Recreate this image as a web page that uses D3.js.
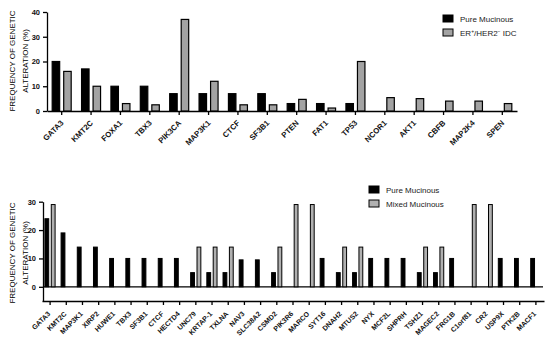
<!DOCTYPE html>
<html>
<head>
<meta charset="utf-8">
<script src="https://cdn.jsdelivr.net/npm/d3@7"></script>
<style>
  body { margin: 0; background: #fff; }
  svg { font-family: "Liberation Sans", Arial, sans-serif; }
</style>
</head>
<body>
<div class="chart"></div>
<script>
// top panel: pure mucinous vs ER+/HER2- IDC
const topGenes = ["GATA3", "KMT2C", "FOXA1", "TBX3", "PIK3CA", "MAP3K1", "CTCF", "SF3B1",
  "PTEN", "FAT1", "TP53", "NCOR1", "AKT1", "CBFB", "MAP2K4", "SPEN"];
const topPure = [20, 17, 10, 10, 7, 7, 7, 7, 3, 3, 3, 0, 0, 0, 0, 0];
const topIdc = [16, 10, 3, 2.5, 37, 12, 2.5, 2.5, 4.7, 1.2, 20, 5.4, 5, 4, 4, 3];
const topTicks = [0, 10, 20, 30, 40];

// bottom panel: pure vs mixed mucinous
const botGenes = ["GATA3", "KMT2C", "MAP3K1", "XIRP2", "HUWE1", "TBX3", "SF3B1", "CTCF",
  "HECTD4", "UNC79", "KRTAP-1", "TXLNA", "NAV3", "SLC38A2", "CSMD2", "PIK3R6", "MARCO",
  "SYT16", "DNAH2", "MTUS2", "NYX", "MCF2L", "SHPRH", "TSHZ1", "MAGEC2", "FRG1B",
  "C1orf81", "CR2", "USP9X", "PTK2B", "MACF1"];
const botPure = [24, 19, 14, 14, 10, 10, 10, 10, 10, 5, 5, 5, 9.5, 9.5, 5, 0, 0,
  10, 5, 5, 10, 10, 10, 5, 5, 10, 0, 0, 10, 10, 10];
const botMixed = [29, 0, 0, 0, 0, 0, 0, 0, 0, 14, 14, 14, 0, 0, 14, 29, 29,
  0, 14, 14, 0, 0, 0, 14, 14, 0, 29, 29, 0, 0, 0];
const botTicks = [0, 10, 20, 30];

const width = 550, height = 337;
const svg = d3.select(".chart").append("svg")
  .attr("width", width)
  .attr("height", height);

function yTitle(cy) {
  const t = svg.append("text")
    .attr("transform", `translate(15, ${cy}) rotate(-90)`)
    .attr("text-anchor", "middle")
    .attr("font-size", 8)
    .attr("fill", "#000");
  t.append("tspan").attr("x", 0).attr("dy", 0).text("FREQUENCY OF GENETIC");
  t.append("tspan").attr("x", 0).attr("dy", "1.6em").text("ALTERATION (%)");
}

function legend(x, y, labels, fills) {
  labels.forEach((lab, i) => {
    const g = svg.append("g").attr("transform", `translate(${x}, ${y + i * 14})`);
    g.append("rect")
      .attr("x", 0).attr("y", -4)
      .attr("width", 10).attr("height", 7)
      .attr("fill", fills[i])
      .attr("stroke", "#000")
      .attr("stroke-width", 1);
    const t = g.append("text")
      .attr("x", 17).attr("y", 3)
      .attr("font-size", 8)
      .attr("fill", "#222");
    lab(t);
  });
}

function styleAxis(g) {
  g.selectAll("path, line").attr("stroke", "#000").attr("stroke-width", 1.3);
  g.selectAll("text").attr("font-weight", "bold").attr("fill", "#111");
}

// ---------- top ----------
const xTop = d3.scaleBand().domain(topGenes).range([47, 517]);
const yTop = d3.scaleLinear().domain([0, 40]).range([111, 12]);
const subTop = d3.scaleBand().domain([0, 1]).range([-9.5, 9.5]).paddingInner(0.35);

svg.append("g")
  .attr("transform", `translate(0, ${yTop(0)})`)
  .call(d3.axisBottom(xTop).tickSize(4).tickSizeOuter(0))
  .call(styleAxis)
  .call(g => g.selectAll("text")
    .attr("font-size", 7.8)
    .attr("text-anchor", "end")
    .attr("transform", "translate(-2,8) rotate(-45)")
    .attr("dy", "0.3em")
    .attr("y", 4));

svg.append("g")
  .attr("transform", `translate(${xTop.range()[0]}, 0)`)
  .call(d3.axisLeft(yTop).tickValues(topTicks).tickSize(4).tickSizeOuter(0))
  .call(styleAxis)
  .call(g => g.selectAll("text").attr("font-size", 7.5));

const topBars = svg.append("g");
[topPure, topIdc].forEach((vals, s) => {
  topBars.selectAll(null)
    .data(vals.map((v, i) => ({ gene: topGenes[i], v })).filter(d => d.v > 0))
    .enter().append("rect")
    .attr("x", d => xTop(d.gene) + xTop.bandwidth() / 2 + subTop(s))
    .attr("width", subTop.bandwidth())
    .attr("y", d => yTop(d.v))
    .attr("height", d => yTop(0) - yTop(d.v))
    .attr("fill", s === 0 ? "#000" : "#a3a3a3")
    .attr("stroke", "#000")
    .attr("stroke-width", 1.2);
});

yTitle(61);
legend(443, 19, [
  t => t.text("Pure Mucinous"),
  t => {
    t.append("tspan").text("ER");
    t.append("tspan").attr("font-size", 5).attr("dy", -3).text("+");
    t.append("tspan").attr("dy", 3).text("/HER2");
    t.append("tspan").attr("font-size", 5).attr("dy", -3).text("−");
    t.append("tspan").attr("dy", 3).text(" IDC");
  }
], ["#000", "#a3a3a3"]);

// ---------- bottom ----------
const xBot = d3.scaleBand().domain(botGenes).range([42, 544]);
const yBot = d3.scaleLinear().domain([-5, 30]).range([301, 201.7]);
const subBot = d3.scaleBand().domain([0, 1]).range([-5.2, 5]).paddingInner(0.4);

svg.append("g")
  .attr("transform", `translate(0, ${yBot(-5)})`)
  .call(d3.axisBottom(xBot).tickSize(4).tickSizeOuter(0))
  .call(styleAxis)
  .call(g => g.selectAll("text")
    .attr("font-size", 7)
    .attr("text-anchor", "end")
    .attr("transform", "translate(-3.6,9) rotate(-45)")
    .attr("dy", "0.3em")
    .attr("y", 4));

svg.append("g")
  .attr("transform", `translate(43, 0)`)
  .call(d3.axisLeft(yBot).tickValues(botTicks).tickSize(4).tickSizeOuter(0))
  .call(styleAxis)
  .call(g => g.selectAll("text").attr("font-size", 7.5));

// zero baseline
svg.append("line")
  .attr("x1", 43).attr("x2", xBot.range()[1] - 1)
  .attr("y1", yBot(0)).attr("y2", yBot(0))
  .attr("stroke", "#000")
  .attr("stroke-width", 1.2);

const botBars = svg.append("g");
[botPure, botMixed].forEach((vals, s) => {
  botBars.selectAll(null)
    .data(vals.map((v, i) => ({ gene: botGenes[i], v })).filter(d => d.v > 0))
    .enter().append("rect")
    .attr("x", d => xBot(d.gene) + xBot.bandwidth() / 2 + subBot(s))
    .attr("width", subBot.bandwidth())
    .attr("y", d => yBot(d.v))
    .attr("height", d => yBot(0) - yBot(d.v))
    .attr("fill", s === 0 ? "#000" : "#b0b0b0")
    .attr("stroke", "#000")
    .attr("stroke-width", 1);
});

yTitle(253);
legend(369, 190, [
  t => t.text("Pure Mucinous"),
  t => t.text("Mixed Mucinous")
], ["#000", "#b0b0b0"]);
</script>
</body>
</html>
